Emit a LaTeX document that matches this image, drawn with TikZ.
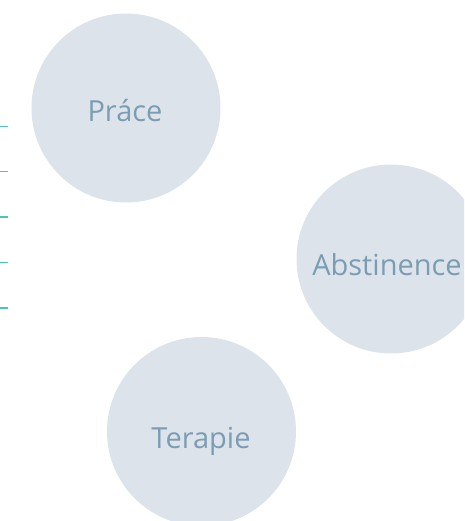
\documentclass[tikz,border=0pt]{standalone}
\usepackage{fontspec}
\setmainfont{Open Sans}
\definecolor{circfill}{HTML}{DDE3EA}
\definecolor{circtext}{HTML}{7A9DB2}
\definecolor{tealline}{HTML}{4CC4B6}
\begin{document}
\begin{tikzpicture}[x=1pt,y=-1pt,
  bubble/.style={circle,fill=circfill,minimum size=189pt,inner sep=0pt},
  bubtext/.style={text=circtext,inner sep=0pt,anchor=base,font=\fontsize{29}{33}\selectfont},
  tick/.style={draw=tealline,line width=1.2pt}]
\useasboundingbox (0,0) rectangle (464,521);
\begin{scope}
\clip (0,0) rectangle (464,521);
\node[bubble] (prace) at (126,108) {};
\node[bubble] (abst) at (391,259) {};
\node[bubble] (terapie) at (201.5,431.5) {};
\end{scope}
\node[bubtext] (pracel) at (125,122) {Práce};
\node[bubtext] (abstl) at (387,275) {Abstinence};
\node[bubtext] (terapiel) at (201,448) {Terapie};
\foreach \y/\n in {126.7/a,171.7/b,217/c,262.7/d,308/e}{
  \coordinate (l\n) at (0,\y);
  \coordinate (r\n) at (8,\y);
  \draw[tick] (l\n) -- (r\n);
}
\end{tikzpicture}
\end{document}
